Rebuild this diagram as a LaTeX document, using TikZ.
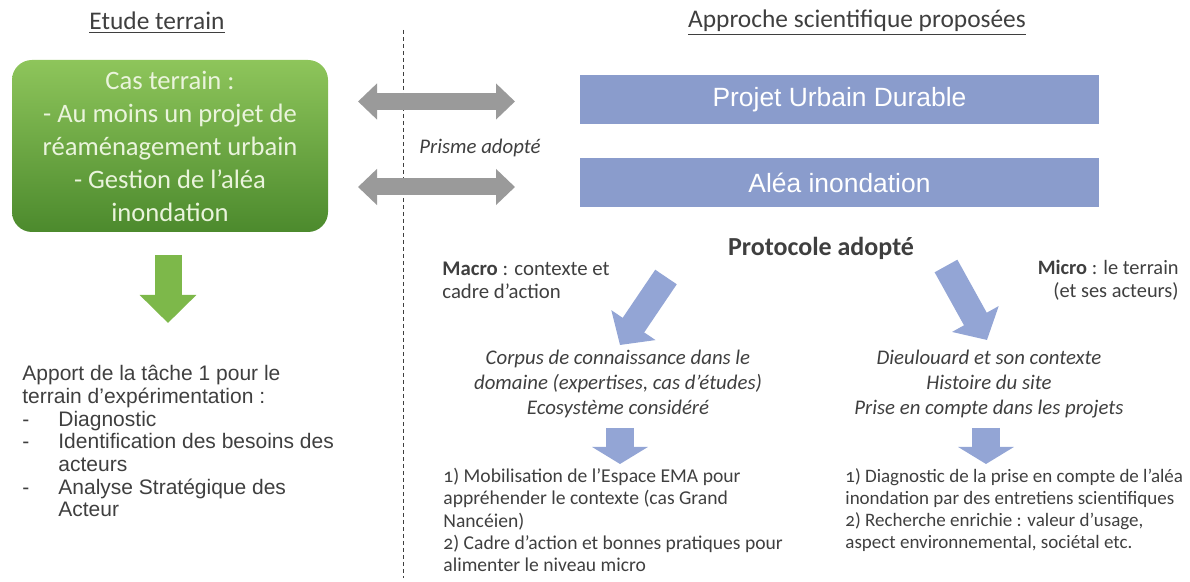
\documentclass[tikz,border=0pt]{standalone}
\usepackage{fontspec}
\setmainfont{Carlito}[Numbers=OldStyle]
\newfontfamily\arialfont{Liberation Sans}
\usetikzlibrary{arrows.meta,calc}

\definecolor{txtgray}{HTML}{3F3F3F}
\definecolor{barblue}{HTML}{8A9CCC}
\definecolor{arrowblue}{HTML}{93A5D5}
\definecolor{arrowgray}{HTML}{9A9A9A}
\definecolor{arrowgreen}{HTML}{7DB84A}
\definecolor{greentop}{HTML}{8EC55B}
\definecolor{greenbot}{HTML}{4C8A2D}
\definecolor{greentxt}{HTML}{EAF4DC}

\begin{document}
\begin{tikzpicture}[x=0.5pt,y=-0.5pt,
    every node/.style={text=txtgray, inner sep=0pt},
    heading/.style={font=\fontsize{12.7}{15}\selectfont},
    body/.style={font=\fontsize{10.4}{11.5}\selectfont, align=left},
    itbody/.style={font=\fontsize{10.4}{12.5}\selectfont\itshape, align=center},
    listbody/.style={font=\fontsize{9.8}{11.1}\selectfont, align=left},
    greenbox/.style={rounded corners=10pt, top color=greentop, bottom color=greenbot,
        minimum width=158pt, minimum height=86pt, text=greentxt, align=center,
        font=\fontsize{13.3}{16.5}\selectfont},
    bluebar/.style={fill=barblue, minimum width=259.5pt, minimum height=24.5pt,
        text=white, font=\arialfont\fontsize{13.2}{15}\selectfont},
    grayarrow/.style={draw=arrowgray, line width=8.5pt,
        {Triangle[length=9.5pt,width=17.5pt]}-{Triangle[length=9.5pt,width=17.5pt]}},
    bluearrow/.style={draw=arrowblue, line width=13pt, -{Triangle[length=12pt,width=26pt]}},
    downarrow/.style={draw=arrowblue, line width=14pt, -{Triangle[length=8.5pt,width=27.5pt]}},
    greenarrow/.style={draw=arrowgreen, line width=13.5pt, -{Triangle[length=14pt,width=27.5pt]}}
]
    \useasboundingbox (0,0) rectangle (1190,582);

    % Headings of the two columns
    \node[heading] (etude) at (157,23) {\underline{Etude terrain}};
    \node[heading] (approche) at (857,23) {\underline{Approche scientifique proposées}};

    % Dashed separator
    \draw[dashed, dash pattern=on 2pt off 1.5pt, txtgray, line width=0.5pt] (403,30) -- (403,578);

    % Left column
    \node[greenbox] (terrain) at (170,146) {Cas terrain :\\- Au moins un projet de\\réaménagement urbain\\- Gestion de l’aléa\\inondation};
    \coordinate (g1) at (168,255);
    \coordinate (g2) at (168,323);
    \draw[greenarrow] (g1) -- (g2);
    \node[body, anchor=north west, font=\arialfont\fontsize{10.5}{11.35}\selectfont] (apport) at (22,365)
        {Apport de la tâche 1 pour le\\terrain d’expérimentation :\\
         \makebox[18pt][l]{-}Diagnostic\\
         \makebox[18pt][l]{-}Identification des besoins des\\
         \makebox[18pt][l]{}acteurs\\
         \makebox[18pt][l]{-}Analyse Stratégique des\\
         \makebox[18pt][l]{}Acteur};

    % Right column: prism bars
    \node[bluebar] (pud) at (839.5,99.5) {Projet Urbain Durable};
    \node[bluebar] (alea) at (839.5,182.5) {Aléa inondation};
    \coordinate (p1) at (358,101.5);
    \coordinate (p2) at (515,101.5);
    \coordinate (p3) at (358,187);
    \coordinate (p4) at (515,187);
    \draw[grayarrow] (p1) -- (p2);
    \draw[grayarrow] (p3) -- (p4);
    \node[itbody] (prisme) at (480,148) {Prisme adopté};

    % Protocol
    \node[font=\fontsize{13}{15}\selectfont\bfseries] (protocole) at (821,248) {Protocole adopté};
    \node[body, anchor=west] (macro) at (442,280) {\textbf{Macro} : contexte et\\cadre d’action};
    \node[body, anchor=east, align=right, font=\fontsize{10.2}{11.5}\selectfont] (micro) at (1179,280) {\textbf{Micro} : le terrain\\(et ses acteurs)};

    \coordinate (m1) at (666,277);
    \coordinate (m2) at (620,345);
    \coordinate (n1) at (946,266);
    \coordinate (n2) at (987,340);
    \draw[bluearrow, line cap=butt] (m1) -- (m2);
    \draw[bluearrow, line cap=butt] (n1) -- (n2);

    \node[itbody] (corpus) at (618,384) {Corpus de connaissance dans le\\domaine (expertises, cas d’études)\\Ecosystème considéré};
    \node[itbody] (dieulouard) at (989,384) {Dieulouard et son contexte\\Histoire du site\\Prise en compte dans les projets};

    \coordinate (d1) at (620,428);
    \coordinate (d2) at (620,464);
    \coordinate (e1) at (986,428);
    \coordinate (e2) at (986,464);
    \draw[downarrow] (d1) -- (d2);
    \draw[downarrow] (e1) -- (e2);

    % Results of the two levels
    \node[listbody, anchor=north west] (resmacro) at (443,468)
        {1) Mobilisation de l’Espace EMA pour\\appréhender le contexte (cas Grand\\Nancéien)\\2) Cadre d’action et bonnes pratiques pour\\alimenter le niveau micro};
    \node[listbody, anchor=north west, font=\fontsize{9.5}{11.1}\selectfont] (resmicro) at (845,468)
        {1) Diagnostic de la prise en compte de l’aléa\\inondation par des entretiens scientifiques\\2) Recherche enrichie : valeur d’usage,\\aspect environnemental, sociétal etc.};

\end{tikzpicture}
\end{document}
